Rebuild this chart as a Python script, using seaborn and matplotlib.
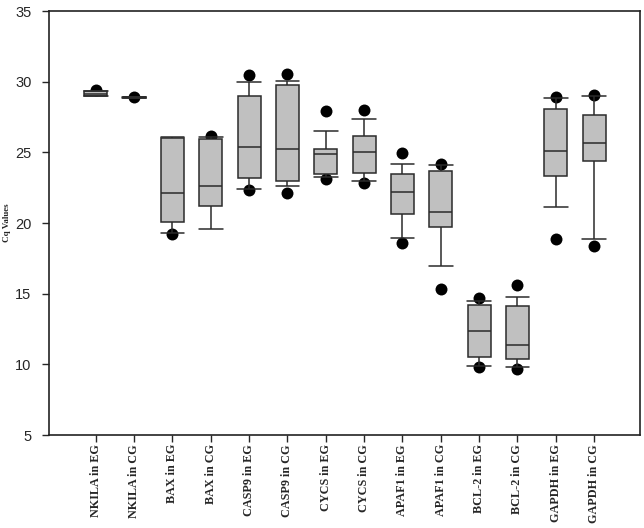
import numpy as np
import pandas as pd
import matplotlib.pyplot as plt
import seaborn as sns

# Box summary (whiskers at 10th/90th, dots beyond)
genes = ['NKILA in EG', 'NKILA in CG', 'BAX in EG', 'BAX in CG',
         'CASP9 in EG', 'CASP9 in CG', 'CYCS in EG', 'CYCS in CG',
         'APAF1 in EG', 'APAF1 in CG', 'BCL-2 in EG', 'BCL-2 in CG',
         'GAPDH in EG', 'GAPDH in CG']
whisk_lo = [28.98, 28.85, 19.31, 19.55, 22.38, 22.59, 23.23, 22.99, 18.91, 16.98, 9.88, 9.81, 21.13, 18.89]
q1 = [28.98, 28.87, 20.09, 21.22, 23.16, 22.97, 23.44, 23.56, 20.61, 19.74, 10.53, 10.35, 23.30, 24.38]
median = [29.15, 28.90, 22.10, 22.62, 25.35, 25.23, 24.86, 25.04, 22.19, 20.75, 12.35, 11.34, 25.09, 25.68]
q3 = [29.36, 28.92, 25.99, 25.92, 28.98, 29.74, 25.21, 26.18, 23.44, 23.72, 14.22, 14.10, 28.04, 27.66]
whisk_hi = [29.36, 28.95, 26.10, 26.06, 29.95, 30.07, 26.49, 27.36, 24.17, 24.08, 14.48, 14.78, 28.87, 28.96]

# outlying points (nan = none)
dot_lo = [np.nan, 28.90, 19.22, np.nan, 22.33, 22.10, 23.13, 22.85, 18.56, 15.33, 9.83, 9.71, 18.86, 18.37]
dot_hi = [29.40, np.nan, np.nan, 26.15, 30.47, 30.54, 27.90, 27.97, 24.93, 24.15, 14.67, 15.59, 28.91, 29.06]

box_df = pd.DataFrame({
    'Gene': np.repeat(genes, 5),
    'Cq': np.column_stack([whisk_lo, q1, median, q3, whisk_hi]).ravel(),
})
dot_df = pd.DataFrame({'Gene': genes * 2, 'Cq': dot_lo + dot_hi}).dropna()

sns.set_style('ticks')
fig, ax = plt.subplots(figsize=(6.44, 5.28), dpi=100)
fig.subplots_adjust(left=0.076, right=0.994, top=0.979, bottom=0.176)

sns.stripplot(data=dot_df, x='Gene', y='Cq', order=genes, jitter=False,
              color='black', size=8.6, linewidth=0, zorder=1.5, ax=ax)
sns.boxplot(data=box_df, x='Gene', y='Cq', order=genes, whis=(0, 100),
            width=0.6, color='#c0c0c0', saturation=1, linecolor='#2b2b2b',
            linewidth=1.1, fliersize=0, capwidths=0.62, ax=ax)

ax.set_xlim(-1.22, 14.2)
ax.set_ylim(5, 35)
ax.set_yticks(range(5, 36, 5))
ax.set_xlabel('')
ax.set_ylabel('Cq Values', fontfamily='Liberation Serif', fontweight='bold', fontsize=6.5)
ax.yaxis.set_label_coords(-0.064, 0.5)

ax.tick_params(axis='x', direction='out', length=5, width=1, pad=1.5)
ax.tick_params(axis='y', direction='out', length=5, width=1, pad=7.5)
for lab in ax.get_xticklabels():
    lab.set_rotation(90)
    lab.set_fontfamily('Liberation Serif')
    lab.set_fontweight('bold')
    lab.set_fontsize(8.7)
for lab in ax.get_yticklabels():
    lab.set_fontfamily('Liberation Sans')
    lab.set_fontsize(10.5)

for side in ['top', 'right', 'left', 'bottom']:
    ax.spines[side].set_visible(True)
    ax.spines[side].set_linewidth(1.2)
    ax.spines[side].set_color('#222222')

plt.savefig('out.png', dpi=100)
